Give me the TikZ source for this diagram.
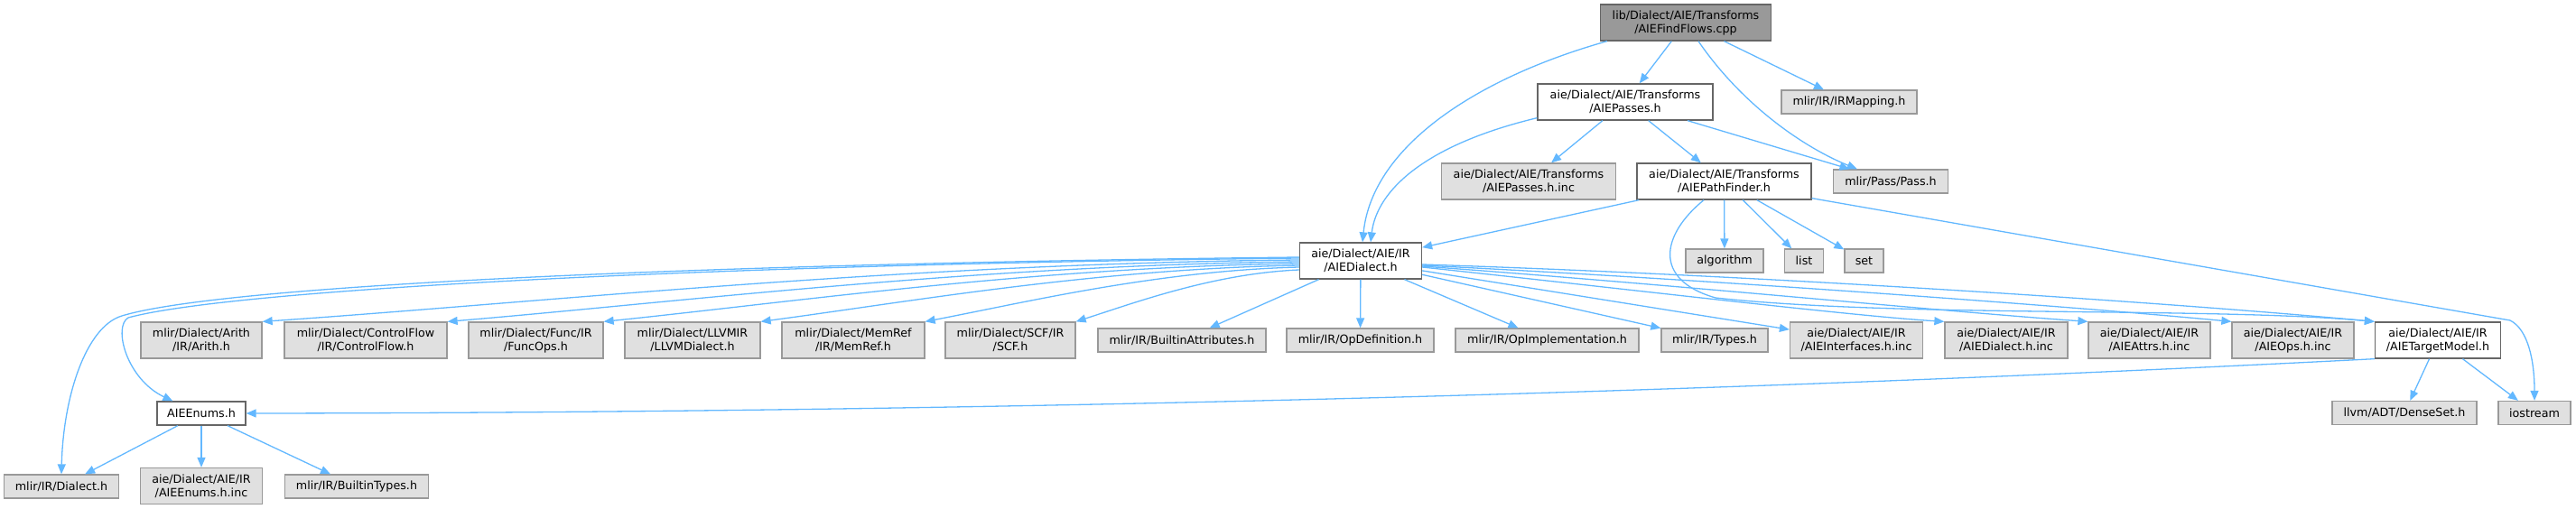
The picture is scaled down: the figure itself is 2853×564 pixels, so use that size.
\documentclass[tikz,border=0pt]{standalone}
\usepackage{fontspec}
\setmainfont{DejaVu Sans}
\usetikzlibrary{arrows.meta}
\definecolor{edgecol}{HTML}{63B8FF}
\definecolor{rootfill}{HTML}{999999}
\definecolor{darkdraw}{HTML}{666666}
\definecolor{incfill}{HTML}{E0E0E0}
\definecolor{incdraw}{HTML}{999999}
\tikzset{
  box/.style={draw, line width=1.3pt, inner sep=0pt, align=center, anchor=center,
    font=\fontsize{12.7}{15}\selectfont},
  sz/.style 2 args={minimum width=#1pt, minimum height=#2pt},
  rootbox/.style={box, fill=rootfill, draw=darkdraw},
  docbox/.style={box, fill=white, draw=darkdraw},
  sysbox/.style={box, fill=incfill, draw=incdraw},
  dep/.style={draw=edgecol, line width=1.3pt, -{Triangle[length=11pt,width=9pt]}},
}
\begin{document}
\begin{tikzpicture}[x=1pt, y=-1pt]
\useasboundingbox (0,0) rectangle (2853,564);
% rank 0-3
\node[rootbox, sz={189}{40}] (root) at (1867,25) {lib/Dialect/AIE/Transforms\\/AIEFindFlows.cpp};
\node[docbox, sz={194}{40}] (passes) at (1800,113) {aie/Dialect/AIE/Transforms\\/AIEPasses.h};
\node[sysbox, sz={150}{26}] (irmap) at (2048,113) {mlir/IR/IRMapping.h};
\node[sysbox, sz={193}{40}] (passinc) at (1693,201) {aie/Dialect/AIE/Transforms\\/AIEPasses.h.inc};
\node[docbox, sz={193}{40}] (pathf) at (1909.5,201) {aie/Dialect/AIE/Transforms\\/AIEPathFinder.h};
\node[sysbox, sz={127}{26}] (pass) at (2094,201) {mlir/Pass/Pass.h};
\node[docbox, sz={135}{40}] (dialect) at (1507,289) {aie/Dialect/AIE/IR\\/AIEDialect.h};
\node[sysbox, sz={86}{26}] (algo) at (1910,289) {algorithm};
\node[sysbox, sz={43}{26}] (list) at (1998,289) {list};
\node[sysbox, sz={43}{26}] (set) at (2064.5,289) {set};
% rank 4
\node[sysbox, sz={134}{40}] (arith) at (223,377) {mlir/Dialect/Arith\\/IR/Arith.h};
\node[sysbox, sz={180}{40}] (cflow) at (405,377) {mlir/Dialect/ControlFlow\\/IR/ControlFlow.h};
\node[sysbox, sz={149}{40}] (func) at (593.5,377) {mlir/Dialect/Func/IR\\/FuncOps.h};
\node[sysbox, sz={150}{40}] (llvm) at (767,377) {mlir/Dialect/LLVMIR\\/LLVMDialect.h};
\node[sysbox, sz={158}{40}] (memref) at (945,377) {mlir/Dialect/MemRef\\/IR/MemRef.h};
\node[sysbox, sz={144}{40}] (scf) at (1119,377) {mlir/Dialect/SCF/IR\\/SCF.h};
\node[sysbox, sz={186}{26}] (battr) at (1309,377) {mlir/IR/BuiltinAttributes.h};
\node[sysbox, sz={163}{26}] (opdef) at (1506.5,377) {mlir/IR/OpDefinition.h};
\node[sysbox, sz={203}{26}] (opimpl) at (1713.5,377) {mlir/IR/OpImplementation.h};
\node[sysbox, sz={118}{26}] (types) at (1899,377) {mlir/IR/Types.h};
\node[sysbox, sz={147}{40}] (ifaces) at (2056,377) {aie/Dialect/AIE/IR\\/AIEInterfaces.h.inc};
\node[sysbox, sz={136}{40}] (dinc) at (2222,377) {aie/Dialect/AIE/IR\\/AIEDialect.h.inc};
\node[sysbox, sz={135}{40}] (attrs) at (2380.5,377) {aie/Dialect/AIE/IR\\/AIEAttrs.h.inc};
\node[sysbox, sz={135}{40}] (ops) at (2539.5,377) {aie/Dialect/AIE/IR\\/AIEOps.h.inc};
\node[docbox, sz={139}{40}] (target) at (2700,377) {aie/Dialect/AIE/IR\\/AIETargetModel.h};
% rank 5
\node[docbox, sz={98}{26}] (enums) at (223,458) {AIEEnums.h};
\node[sysbox, sz={160}{26}] (dense) at (2663,457.5) {llvm/ADT/DenseSet.h};
\node[sysbox, sz={80}{26}] (iostr) at (2807,457.5) {iostream};
% rank 6
\node[sysbox, sz={127}{26}] (mdial) at (68,539) {mlir/IR/Dialect.h};
\node[sysbox, sz={135}{40}] (enumsinc) at (223,538.5) {aie/Dialect/AIE/IR\\/AIEEnums.h.inc};
\node[sysbox, sz={159}{26}] (btypes) at (395,539) {mlir/IR/BuiltinTypes.h};
\coordinate (iobend) at (2780,355);

% edges from root
\draw[dep] (root) -- (passes);
\draw[dep] (root) -- (irmap);
\draw[dep] ([xshift=14pt]root.south) .. controls (1925,110) and (1990,160) .. ([xshift=27pt]pass.north west);
\draw[dep] ([xshift=8pt]root.south west) .. controls (1640,85) and (1520,160) .. ([xshift=2pt]dialect.north);
% edges from AIEPasses.h
\draw[dep] (passes) -- (passinc);
\draw[dep] (passes) -- (pathf);
\draw[dep] (passes) -- (pass);
\draw[dep] ([yshift=3pt]passes.south west) .. controls (1580,160) and (1525,210) .. ([xshift=11pt]dialect.north);
% edges from AIEPathFinder.h
\draw[dep] (pathf) -- (dialect);
\draw[dep] (pathf) -- (algo);
\draw[dep] (pathf) -- (list);
\draw[dep] (pathf) -- (set);
\draw[dep] ([yshift=2pt]pathf.south east) -- (iobend) .. controls (2800,365) and (2807,400) .. (iostr.north);
\draw[dep] ([xshift=-22.5pt]pathf.south) .. controls (1840,260) and (1830,310) .. (1900,330)
  .. controls (2100,352) and (2450,340) .. (target.north west);
% edges from AIEDialect.h to the left
\draw[dep] ([yshift=4pt]dialect.west) .. controls (800,292) and (250,315) .. (135,350)
  .. controls (95,362) and (70,440) .. (mdial.north);
\draw[dep] ([yshift=3pt]dialect.west) .. controls (800,293) and (260,320) .. (142,352)
  .. controls (125,362) and (140,420) .. ([xshift=18pt]enums.north west);
\draw[dep] ([yshift=1pt]dialect.west) .. controls (1002.7,292) and (600.4,335) .. (arith.north east);
\draw[dep] ([yshift=-1pt]dialect.west) .. controls (1080.6,294) and (750,335) .. (cflow.north east);
\draw[dep] ([yshift=-3pt]dialect.west) .. controls (1146.3,296) and (876.3,335) .. (func.north east);
\draw[dep] ([yshift=-5pt]dialect.west) .. controls (1212.5,298) and (1003.3,335) .. (llvm.north east);
\draw[dep] ([yshift=-7pt]dialect.west) .. controls (1281.5,300) and (1136,335) .. (memref.north east);
\draw[dep] ([yshift=-10pt]dialect.west) .. controls (1345,303) and (1258,335) .. (scf.north east);
% edges from AIEDialect.h downwards / right
\draw[dep] (dialect) -- (battr);
\draw[dep] (dialect) -- (opdef);
\draw[dep] (dialect) -- (opimpl);
\draw[dep] (dialect) -- (types);
\draw[dep] (dialect) -- (ifaces);
\draw[dep] ([yshift=-7pt]dialect.east) .. controls (1800,320) and (2050,350) .. (dinc.north west);
\draw[dep] ([yshift=-6pt]dialect.east) .. controls (1850,315) and (2150,345) .. (attrs.north west);
\draw[dep] ([yshift=-5pt]dialect.east) .. controls (1900,310) and (2300,340) .. (ops.north west);
\draw[dep] ([yshift=-4pt]dialect.east) .. controls (1950,305) and (2400,335) .. (target.north west);
% edges from AIETargetModel.h
\draw[dep] (target.south west) .. controls (2000,430) and (1200,457) .. (enums.east);
\draw[dep] (target) -- (dense);
\draw[dep] (target) -- (iostr);
% edges from AIEEnums.h
\draw[dep] (enums) -- (mdial);
\draw[dep] (enums) -- (enumsinc);
\draw[dep] (enums) -- (btypes);
\end{tikzpicture}
\end{document}
